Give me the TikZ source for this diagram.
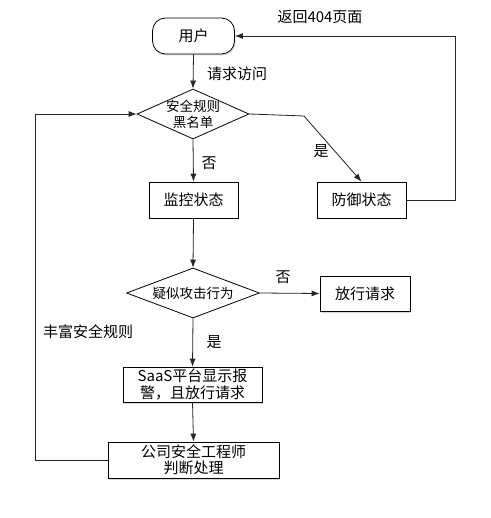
\documentclass[tikz,border=0pt]{standalone}
\usepackage{fontspec}
\setmainfont{Noto Sans CJK SC}
\usetikzlibrary{shapes.geometric,shadows,arrows.meta}
\begin{document}
\begin{tikzpicture}[x=1pt,y=-1pt,
  line width=0.8pt,
  mainfont/.style={font=\fontsize{15pt}{16.5pt}\selectfont},
  box/.style={draw=black, fill=white, mainfont, align=center, inner sep=0pt,
    drop shadow={shadow xshift=1pt, shadow yshift=-1.5pt, opacity=0.3}},
  dia/.style={draw=black, fill=white, shape=diamond, inner sep=0pt},
  diatext/.style={font=\fontsize{13.5pt}{16pt}\selectfont, align=center, inner sep=0pt},
  lbl/.style={mainfont, inner sep=0pt},
  conn/.style={draw=black!85, -{Latex[length=8pt,width=6pt]}}
]
\useasboundingbox (0,0) rectangle (490,518);
\fill[white] (0,0) rectangle (490,518);

\node[box, rounded corners=13pt, minimum width=82pt, minimum height=36pt] (u) at (193.5,36) {用户};
\node[dia, minimum width=112pt, minimum height=50pt] (d1) at (193,114) {};
\node[diatext] (d1t) at (d1.center) {安全规则\\黑名单};
\node[box, minimum width=89pt, minimum height=36pt] (m) at (193.5,200) {监控状态};
\node[box, minimum width=89pt, minimum height=36pt] (f) at (361.5,200) {防御状态};
\node[dia, minimum width=133pt, minimum height=50pt] (d2) at (193,293) {};
\node[diatext] (d2t) at (d2.center) {疑似攻击行为};
\node[box, minimum width=90pt, minimum height=35pt] (p) at (365,293.5) {放行请求};
\node[box, minimum width=139pt, minimum height=35pt] (s) at (192.5,384.5) {SaaS平台显示报\\警，且放行请求};
\node[box, minimum width=171pt, minimum height=36pt] (k) at (193.5,460) {公司安全工程师\\判断处理};

\coordinate (bend) at (304,116);

\draw[conn] (u.south) -- (d1.north);
\draw[conn] (d1.south) -- (m.north);
\draw[conn] (d1.east) -- (bend) -- (f.north);
\draw[conn] (f.east) -- ++(49,0) |- (u.east);
\draw[conn] (m.south) -- (d2.north);
\draw[conn] (d2.east) -- (p.west);
\draw[conn] (d2.south) -- (s.north);
\draw[conn] (s.south) -- (k.north);
\draw[conn] (k.west) -- ++(-72,0) |- (d1.west);

\node[lbl] (l1) at (237,74) {请求访问};
\node[lbl] (l2) at (209,163) {否};
\node[lbl] (l3) at (321,151) {是};
\node[lbl] (l4) at (320,17) {返回404页面};
\node[lbl] (l5) at (283,277) {否};
\node[lbl] (l6) at (214,342) {是};
\node[lbl] (l7) at (88,332) {丰富安全规则};
\end{tikzpicture}
\end{document}
